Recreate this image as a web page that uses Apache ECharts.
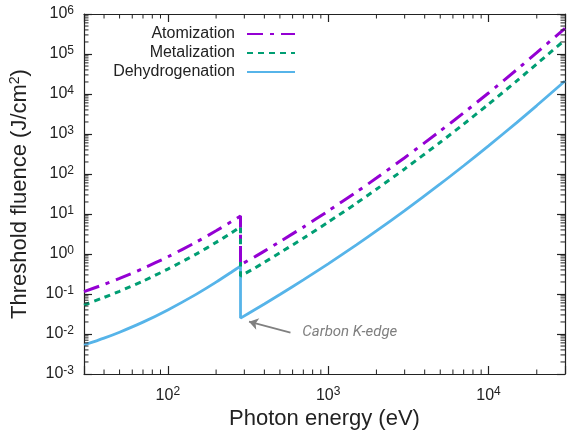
<!DOCTYPE html>
<html><head><meta charset="utf-8">
<script src="https://cdn.jsdelivr.net/npm/echarts@6/dist/echarts.min.js"></script>
<style>html,body{margin:0;padding:0;background:#fff}#c{width:569px;height:438px}</style>
</head><body><div id="c"></div>
<script>
// ---- data ----
const seriesNames = ['Atomization', 'Metalization', 'Dehydrogenation'];
const energyBelowEdge = [30, 40, 50, 70, 100, 150, 200, 250, 284];
const energyAboveEdge = [284, 350, 400, 500, 700, 1000, 1500, 2000, 3000, 5000, 7000, 10000, 15000, 20000, 30000];
const atomizationBelow = [0.115, 0.173, 0.245, 0.435, 0.85, 1.98, 3.8, 6.5, 8.9];
const atomizationAbove = [0.54, 0.86, 1.18, 2.04, 4.7, 11.9, 35.5, 79, 256, 1190, 3380, 10600, 40500, 108000, 440000];
const metalizationBelow = [0.053, 0.082, 0.117, 0.21, 0.42, 0.99, 1.95, 3.4, 4.8];
const metalizationAbove = [0.28, 0.45, 0.62, 1.07, 2.48, 6.25, 18.6, 41.6, 134, 620, 1770, 5560, 21200, 56500, 225000];
const dehydrogenationBelow = [0.0053, 0.0079, 0.0111, 0.0198, 0.04, 0.098, 0.198, 0.355, 0.5];
const dehydrogenationAbove = [0.025, 0.041, 0.0564, 0.097, 0.225, 0.568, 1.69, 3.78, 12.2, 56.5, 161, 505, 1930, 5140, 21100];
const xRange = [30, 30000];
const yRange = [0.001, 1000000];
const xMinorTicks = [40, 50, 60, 70, 80, 90, 200, 300, 400, 500, 600, 700, 800, 900,
  2000, 3000, 4000, 5000, 6000, 7000, 8000, 9000, 20000];
const yMinorTicks = [
  0.002, 0.003, 0.004, 0.005, 0.006, 0.007, 0.008, 0.009,
  0.02, 0.03, 0.04, 0.05, 0.06, 0.07, 0.08, 0.09,
  0.2, 0.3, 0.4, 0.5, 0.6, 0.7, 0.8, 0.9,
  2, 3, 4, 5, 6, 7, 8, 9,
  20, 30, 40, 50, 60, 70, 80, 90,
  200, 300, 400, 500, 600, 700, 800, 900,
  2000, 3000, 4000, 5000, 6000, 7000, 8000, 9000,
  20000, 30000, 40000, 50000, 60000, 70000, 80000, 90000,
  200000, 300000, 400000, 500000, 600000, 700000, 800000, 900000];
const annotationText = 'Carbon K-edge';
const arrowFrom = [582, 0.0108];
const arrowTo = [321, 0.0203];
const annotationAt = [690, 0.0112];

// ---- styling ----
const FONT = 'Liberation Sans, Arial, sans-serif';
const AX = '#222';
const colors = ['#9400D3', '#009E73', '#56B4E9'];
const supRich = { sup: { fontSize: 12, padding: [0, 0, 7, 0], fontFamily: FONT, color: AX } };

function zip(xs, ys) { return xs.map((x, i) => [x, ys[i]]); }
function build(below, above) { return zip(energyBelowEdge, below).concat(zip(energyAboveEdge, above)); }
function powLabel(v) {
  const e = Math.log10(v); const r = Math.round(e);
  if (Math.abs(e - r) > 1e-6) return '';
  return '10{sup|' + r + '}';
}

const chart = echarts.init(document.getElementById('c'), null, { renderer: 'canvas' });

function axisBase(extra) {
  return Object.assign({
    type: 'log', logBase: 10, splitNumber: 10,
    axisLine: { show: true, lineStyle: { color: AX, width: 1.2 } },
    axisTick: { show: true, inside: true, length: 8, lineStyle: { color: AX, width: 1.2 } },
    splitLine: { show: false },
    minorTick: { show: false }
  }, extra);
}

const minorLen = 4.5;
function minorXRender(params, api) {
  const v = api.value(0);
  const b = api.coord([v, yRange[0]]);
  const t = api.coord([v, yRange[1]]);
  return { type: 'group', children: [
    { type: 'line', shape: { x1: b[0], y1: b[1], x2: b[0], y2: b[1] - minorLen }, style: { stroke: AX, lineWidth: 1 } },
    { type: 'line', shape: { x1: t[0], y1: t[1], x2: t[0], y2: t[1] + minorLen }, style: { stroke: AX, lineWidth: 1 } }
  ] };
}
function minorYRender(params, api) {
  const v = api.value(1);
  const l = api.coord([xRange[0], v]);
  const r = api.coord([xRange[1], v]);
  return { type: 'group', children: [
    { type: 'line', shape: { x1: l[0], y1: l[1], x2: l[0] + minorLen, y2: l[1] }, style: { stroke: AX, lineWidth: 1 } },
    { type: 'line', shape: { x1: r[0], y1: r[1], x2: r[0] - minorLen, y2: r[1] }, style: { stroke: AX, lineWidth: 1 } }
  ] };
}

const SMOOTH = 0.25;
const option = {
  animation: false,
  backgroundColor: '#fff',
  grid: { left: 82, right: 4, top: 14, bottom: 64, containLabel: false },
  legend: {
    orient: 'vertical', right: 268, top: 21, align: 'right',
    itemWidth: 48, itemHeight: 14, itemGap: 3,
    itemStyle: { opacity: 0 },
    textStyle: { fontSize: 16, color: AX, fontFamily: FONT, padding: [0, 7, 0, 0] },
    data: seriesNames
  },
  xAxis: [
    axisBase({
      position: 'bottom', min: xRange[0], max: xRange[1],
      axisLabel: { show: true, formatter: powLabel, margin: 12, fontSize: 16, color: AX, fontFamily: FONT, rich: supRich },
      name: 'Photon energy (eV)', nameLocation: 'middle', nameGap: 32,
      nameTextStyle: { fontSize: 22, color: AX, fontFamily: FONT }
    }),
    axisBase({ position: 'top', min: xRange[0], max: xRange[1], axisLabel: { show: false } })
  ],
  yAxis: [
    axisBase({
      position: 'left', min: yRange[0], max: yRange[1],
      axisLabel: { show: true, formatter: powLabel, margin: 10, fontSize: 16, color: AX, fontFamily: FONT, rich: supRich },
      name: 'Threshold fluence (J/cm{sup|2})', nameLocation: 'middle', nameGap: 52, nameRotate: 90,
      nameTextStyle: { fontSize: 22, color: AX, fontFamily: FONT,
        rich: { sup: { fontSize: 14, padding: [0, 0, 10, 0], fontFamily: FONT, color: AX } } }
    }),
    axisBase({ position: 'right', min: yRange[0], max: yRange[1], axisLabel: { show: false } })
  ],
  series: [
    {
      name: seriesNames[0], type: 'line', data: build(atomizationBelow, atomizationAbove),
      symbol: 'none', showSymbol: false, z: 4, smooth: SMOOTH,
      lineStyle: { color: colors[0], width: 3, type: [16, 7, 4, 7], cap: 'butt' },
      itemStyle: { color: colors[0] }
    },
    {
      name: seriesNames[1], type: 'line', data: build(metalizationBelow, metalizationAbove),
      symbol: 'none', showSymbol: false, z: 3, smooth: SMOOTH,
      lineStyle: { color: colors[1], width: 3, type: [6, 5], cap: 'butt' },
      itemStyle: { color: colors[1] }
    },
    {
      name: seriesNames[2], type: 'line', data: build(dehydrogenationBelow, dehydrogenationAbove),
      symbol: 'none', showSymbol: false, z: 2, smooth: SMOOTH,
      lineStyle: { color: colors[2], width: 2.8, type: 'solid' },
      itemStyle: { color: colors[2] },
      markLine: {
        silent: true, animation: false, symbol: ['none', 'arrow'], symbolSize: 9,
        lineStyle: { color: '#808080', width: 1.8, type: 'solid' },
        label: { show: false }, emphasis: { disabled: true },
        data: [[{ coord: arrowFrom }, { coord: arrowTo }]]
      },
      markPoint: {
        silent: true, animation: false, symbol: 'circle', symbolSize: 0,
        label: { show: true, position: 'right', distance: 0, formatter: '{b}', fontStyle: 'italic',
          fontSize: 15, color: '#7f7f7f', fontFamily: 'Roboto, sans-serif' },
        data: [{ name: annotationText, coord: annotationAt }]
      }
    },
    {
      type: 'custom', silent: true, renderItem: minorXRender, z: 10,
      data: xMinorTicks.map(v => [v, 1]), encode: { x: 0, y: 1 }
    },
    {
      type: 'custom', silent: true, renderItem: minorYRender, z: 10,
      data: yMinorTicks.map(v => [100, v]), encode: { x: 0, y: 1 }
    }
  ]
};
chart.setOption(option);
</script>
</body></html>
